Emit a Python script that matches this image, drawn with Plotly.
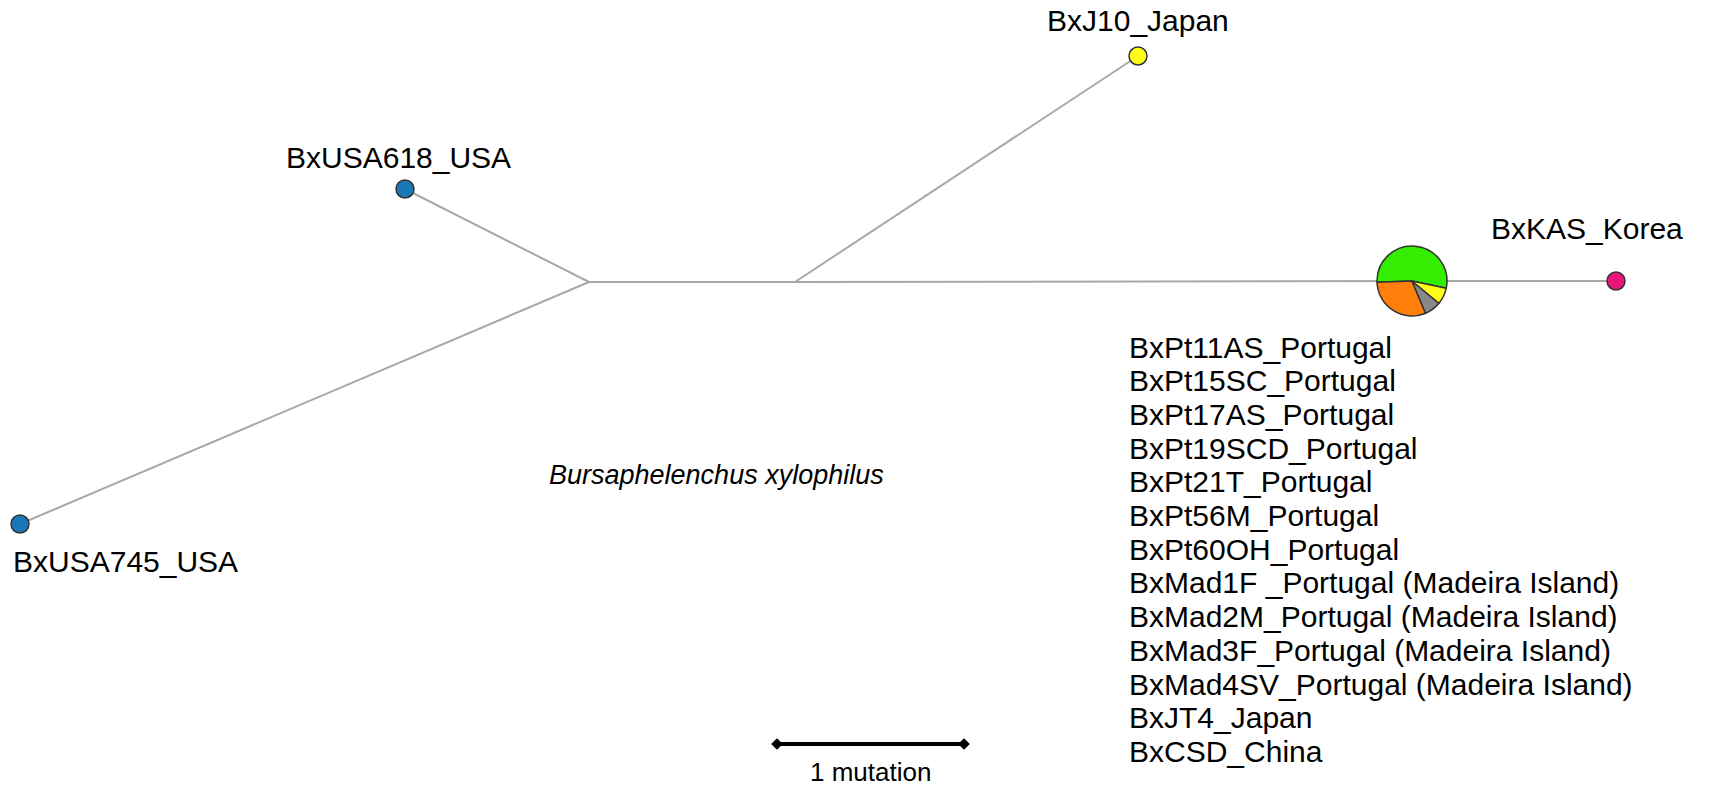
import plotly.graph_objects as go

W, H = 1721, 801

# Haplotype network nodes (layout units, 1 unit = 1 px of original figure)
node_names = ["BxUSA618_USA", "BxUSA745_USA", "BxJ10_Japan", "BxKAS_Korea"]
node_x = [405, 20, 1138, 1616]
node_y = [189, 524, 56, 281]
node_colors = ["#1a78b8", "#1a78b8", "#ffff1a", "#e8157a"]

# median (hidden) vertices
junction_x = [589, 795]
junction_y = [282, 282]

# central shared haplotype (pie)
pie_center = (1412, 281)
pie_radius = 35
pie_groups = ["Portugal", "Portugal (Madeira Island)", "China", "Japan"]
pie_counts = [7, 4, 1, 1]
pie_colors = ["#33ee00", "#ff7f0a", "#888888", "#ffff1a"]

coords = {
    "USA618": (node_x[0], node_y[0]),
    "USA745": (node_x[1], node_y[1]),
    "J10": (node_x[2], node_y[2]),
    "KAS": (node_x[3], node_y[3]),
    "M1": (junction_x[0], junction_y[0]),
    "M2": (junction_x[1], junction_y[1]),
    "PIE": pie_center,
}
edges = [("USA618", "M1"), ("USA745", "M1"), ("M1", "M2"), ("M2", "J10"),
         ("M2", "PIE"), ("PIE", "KAS")]

shared_isolates = [
    "BxPt11AS_Portugal", "BxPt15SC_Portugal", "BxPt17AS_Portugal",
    "BxPt19SCD_Portugal", "BxPt21T_Portugal", "BxPt56M_Portugal",
    "BxPt60OH_Portugal", "BxMad1F _Portugal (Madeira Island)",
    "BxMad2M_Portugal (Madeira Island)", "BxMad3F_Portugal (Madeira Island)",
    "BxMad4SV_Portugal (Madeira Island)", "BxJT4_Japan", "BxCSD_China",
]

# scale bar: 1 mutation
scale_x = [777, 964]
scale_y = 744

FONT = "Liberation Sans, Arial, sans-serif"
FS = 30

fig = go.Figure()

ex, ey = [], []
for a, b in edges:
    ex += [coords[a][0], coords[b][0], None]
    ey += [coords[a][1], coords[b][1], None]
fig.add_trace(go.Scatter(x=ex, y=ey, mode="lines",
                         line=dict(color="#a8a8a8", width=2),
                         hoverinfo="skip", showlegend=False))

fig.add_trace(go.Scatter(x=node_x, y=node_y, mode="markers",
                         marker=dict(size=18, color=node_colors,
                                     line=dict(color="#333333", width=1.5)),
                         text=node_names, hoverinfo="text", showlegend=False))

fig.add_trace(go.Scatter(x=scale_x, y=[scale_y, scale_y], mode="lines+markers",
                         line=dict(color="black", width=4),
                         marker=dict(symbol="diamond", size=9, color="black"),
                         hoverinfo="skip", showlegend=False))

cx, cy = pie_center
fig.add_trace(go.Pie(
    labels=pie_groups, values=pie_counts, sort=False,
    direction="counterclockwise", rotation=-92,
    marker=dict(colors=pie_colors, line=dict(color="#333333", width=1.5)),
    textinfo="none", hoverinfo="label+value", showlegend=False,
    domain=dict(x=[(cx - pie_radius) / W, (cx + pie_radius) / W],
                y=[1 - (cy + pie_radius) / H, 1 - (cy - pie_radius) / H]),
))

label_pos = [(398, 157, "center"), (11, 561, "left"), (1138, 20, "center"), (1587, 228, "center")]
for name, (lx, ly, anc) in zip(node_names, label_pos):
    fig.add_annotation(x=lx, y=ly, text=name, showarrow=False, xanchor=anc,
                       yanchor="middle", font=dict(family=FONT, size=FS, color="black"))

list_x, list_y0, list_dy = 1127, 347, 33.7
for i, s in enumerate(shared_isolates):
    fig.add_annotation(x=list_x, y=list_y0 + i * list_dy, text=s, showarrow=False,
                       xanchor="left", yanchor="middle",
                       font=dict(family=FONT, size=FS, color="black"))

fig.add_annotation(x=716, y=475, text="<i>Bursaphelenchus xylophilus</i>", showarrow=False,
                   xanchor="center", yanchor="middle",
                   font=dict(family=FONT, size=27, color="black"))
fig.add_annotation(x=sum(scale_x) / 2, y=772, text="1 mutation", showarrow=False,
                   xanchor="center", yanchor="middle",
                   font=dict(family=FONT, size=26, color="black"))

fig.update_layout(
    width=W, height=H, margin=dict(l=0, r=0, t=0, b=0),
    paper_bgcolor="white", plot_bgcolor="white",
    xaxis=dict(range=[0, W], visible=False, fixedrange=True),
    yaxis=dict(range=[H, 0], visible=False, fixedrange=True),
    showlegend=False,
)

fig.write_html("out.html", config={"displayModeBar": False},
               post_script="document.body.style.margin='0';document.body.style.overflow='hidden';")
